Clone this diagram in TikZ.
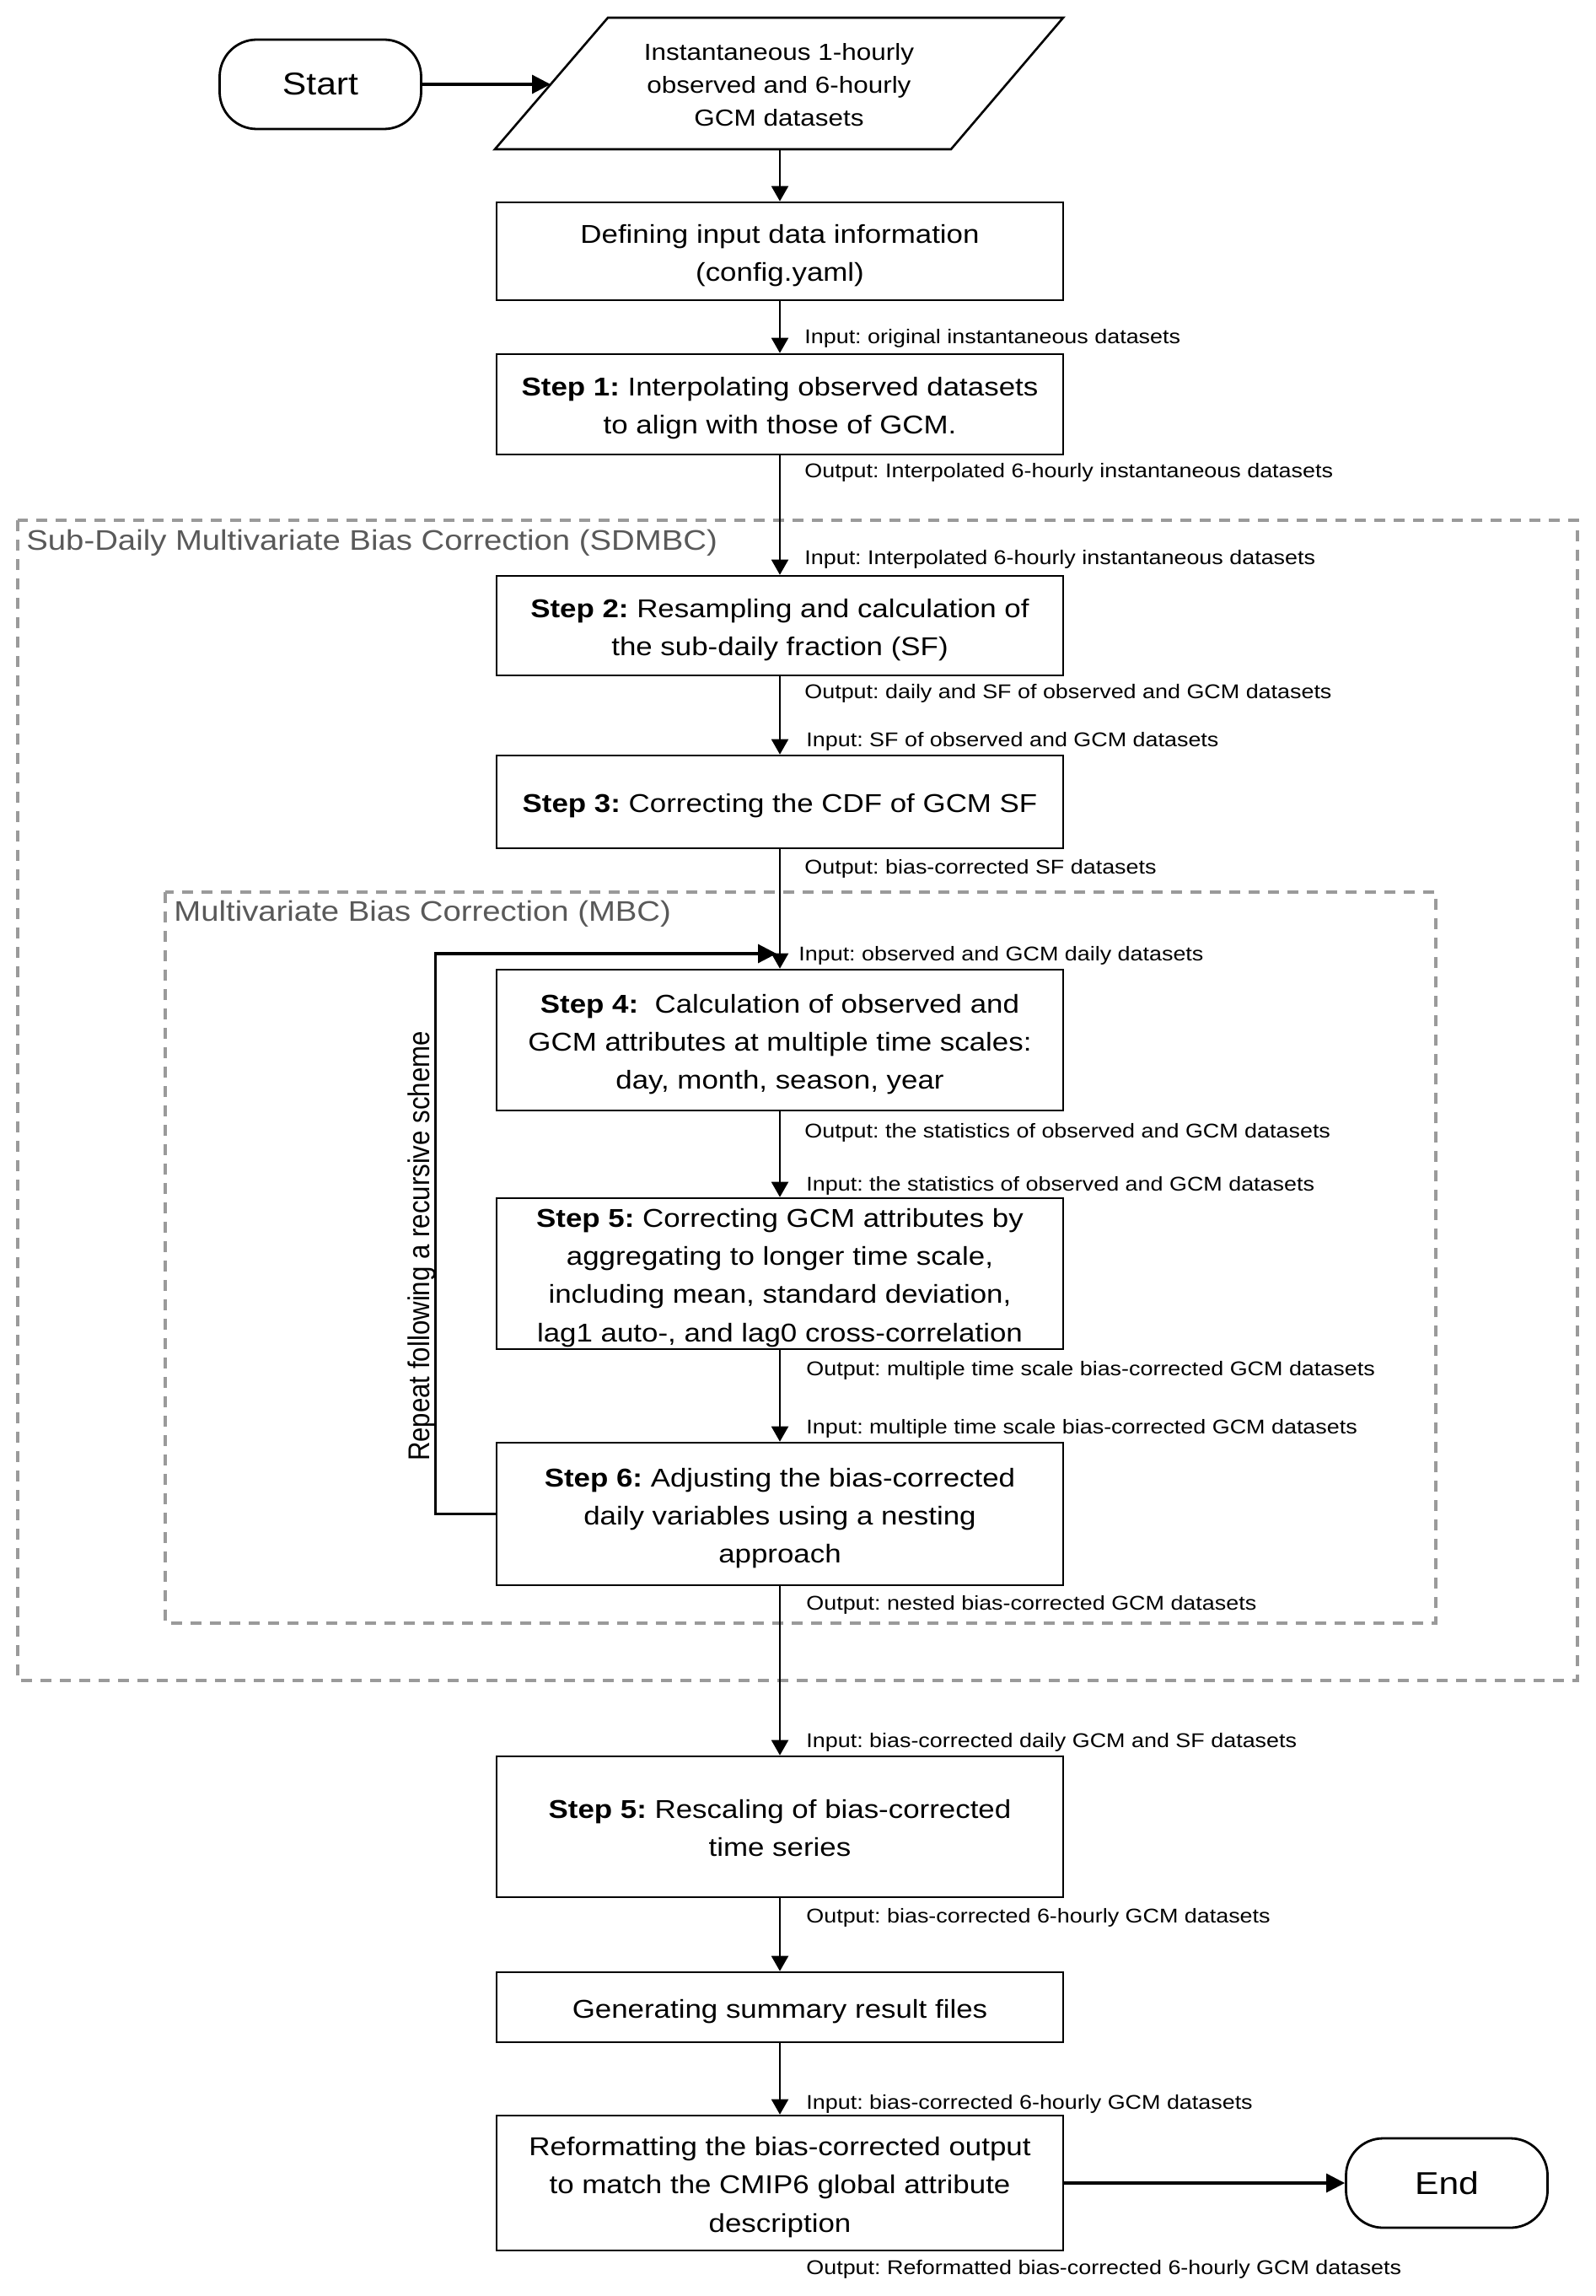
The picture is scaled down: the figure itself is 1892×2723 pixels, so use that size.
\documentclass[tikz,border=0pt]{standalone}
\usepackage{fontspec}
\setmainfont{Liberation Sans}[FakeStretch=1.14]
\newfontfamily\rotfont{Liberation Sans}
\usepackage{graphicx}
\usetikzlibrary{arrows.meta}
\definecolor{dashgray}{HTML}{9A9A9A}
\definecolor{grouptext}{HTML}{595959}
\tikzset{
 stepbox/.style={draw, line width=1.3pt, minimum width=336pt, align=center, inner sep=0pt, font=\fontsize{15.3}{22.6}\selectfont, fill=white},
 nl/.style={execute at begin node={\rule[-3.4pt]{0pt}{#1}}},
 term/.style={draw, line width=1.4pt, rounded corners=22pt, minimum width=119.5pt, minimum height=53pt, inner sep=0pt, font=\fontsize{18.7}{22}\selectfont},
 lbl/.style={anchor=base west, inner sep=0pt, font=\fontsize{11.8}{14}\selectfont},
 grp/.style={draw=dashgray, line width=2pt, dash pattern=on 6.5pt off 5pt},
 grplbl/.style={anchor=base west, inner sep=0pt, text=grouptext, font=\fontsize{16.8}{20}\selectfont},
 conn/.style={line width=1pt, -{Triangle[length=9pt,width=10pt]}},
 thickconn/.style={line width=1.6pt, -{Triangle[length=11pt,width=11pt]}},
}
\begin{document}
\frenchspacing
\begin{tikzpicture}[x=0.5pt,y=-0.5pt]
\useasboundingbox (0,0) rectangle (1892,2723);
% group frames
\draw[grp] (21,617) rectangle (1871,1993);
\draw[grp] (196,1058) rectangle (1703,1925);
\node[grplbl] (g1) at (31,652) {Sub-Daily Multivariate Bias Correction (SDMBC)};
\node[grplbl] (g2) at (206,1092) {Multivariate Bias Correction (MBC)};

% terminals
\node[term] (start) at (380,100) {Start};
\node[term] (end) at (1716,2589) {End};

% input parallelogram
\coordinate (p1) at (721,21);
\coordinate (p2) at (1261,21);
\coordinate (p3) at (1128,177);
\coordinate (p4) at (587,177);
\draw[line width=1.3pt, line join=miter] (p1) -- (p2) -- (p3) -- (p4) -- cycle;
\node[align=center, inner sep=0pt, font=\fontsize{13.8}{19.5}\selectfont] (para) at (924,101) {Instantaneous 1-hourly\\observed and 6-hourly\\GCM datasets};
\coordinate (pin) at (653,100);
\coordinate (pb) at (925,177);

% boxes
\node[stepbox, nl=42.2pt, minimum height=58pt] (def) at (925,298) {Defining input data information\\(config.yaml)};
\node[stepbox, nl=42.2pt, minimum height=59.5pt] (s1) at (925,479.5) {\textbf{Step 1:} Interpolating observed datasets\\to align with those of GCM.};
\node[stepbox, nl=42.2pt, minimum height=59pt] (s2) at (925,742) {\textbf{Step 2:} Resampling and calculation of\\the sub-daily fraction (SF)};
\node[stepbox, nl=19.6pt, minimum height=55pt] (s3) at (925,951) {\textbf{Step 3:} Correcting the CDF of GCM SF};
\node[stepbox, nl=64.8pt, minimum height=83.5pt] (s4) at (925,1233.5) {\textbf{Step 4:}\ \ Calculation of observed and\\GCM attributes at multiple time scales:\\day, month, season, year};
\node[stepbox, nl=87.4pt, minimum height=89.5pt] (s5) at (925,1510.5) {\textbf{Step 5:} Correcting GCM attributes by\\aggregating to longer time scale,\\including mean, standard deviation,\\lag1 auto-, and lag0 cross-correlation};
\node[stepbox, nl=64.8pt, minimum height=84.5pt] (s6) at (925,1795.5) {\textbf{Step 6:} Adjusting the bias-corrected\\daily variables using a nesting\\approach};
\node[stepbox, nl=42.2pt, minimum height=83.5pt] (resc) at (925,2166.5) {\textbf{Step 5:} Rescaling of bias-corrected\\time series};
\node[stepbox, nl=19.6pt, minimum height=41.5pt] (gen) at (925,2380.5) {Generating summary result files};
\node[stepbox, nl=64.8pt, minimum height=80pt] (ref) at (925,2589) {Reformatting the bias-corrected output\\to match the CMIP6 global attribute\\description};

% connectors
\draw[thickconn] (start.east) -- (pin);
\draw[conn] (pb) -- (def.north);
\draw[conn] (def.south) -- (s1.north);
\draw[conn] (s1.south) -- (s2.north);
\draw[conn] (s2.south) -- (s3.north);
\draw[conn] (s3.south) -- (s4.north);
\draw[conn] (s4.south) -- (s5.north);
\draw[conn] (s5.south) -- (s6.north);
\draw[conn] (s6.south) -- (resc.north);
\draw[conn] (resc.south) -- (gen.north);
\draw[conn] (gen.south) -- (ref.north);
\draw[thickconn] (ref.east) -- (end.west);

% recursive loop
\coordinate (loopin) at (921,1131);
\draw[thickconn, line join=miter] (s6.west) -- ++(-71,0) |- (loopin);
\node[rotate=90, anchor=base, inner sep=0pt, font=\rotfont\fontsize{15.6}{18}\selectfont] (rep) at (509,1478) {\scalebox{1}[1.14]{Repeat following a recursive scheme}};

% labels
\node[lbl] (l1) at (954,408) {Input: original instantaneous datasets};
\node[lbl] (l2) at (954,566) {Output: Interpolated 6-hourly instantaneous datasets};
\node[lbl] (l3) at (954,669) {Input: Interpolated 6-hourly instantaneous datasets};
\node[lbl] (l4) at (954,828) {Output: daily and SF of observed and GCM datasets};
\node[lbl] (l5) at (956,885) {Input: SF of observed and GCM datasets};
\node[lbl] (l6) at (954,1036) {Output: bias-corrected SF datasets};
\node[lbl] (l7) at (947,1139) {Input: observed and GCM daily datasets};
\node[lbl] (l8) at (954,1349) {Output: the statistics of observed and GCM datasets};
\node[lbl] (l9) at (956,1412) {Input: the statistics of observed and GCM datasets};
\node[lbl] (l10) at (956,1631) {Output: multiple time scale bias-corrected GCM datasets};
\node[lbl] (l11) at (956,1700) {Input: multiple time scale bias-corrected GCM datasets};
\node[lbl] (l12) at (956,1909) {Output: nested bias-corrected GCM datasets};
\node[lbl] (l13) at (956,2072) {Input: bias-corrected daily GCM and SF datasets};
\node[lbl] (l14) at (956,2280) {Output: bias-corrected 6-hourly GCM datasets};
\node[lbl] (l15) at (956,2501) {Input: bias-corrected 6-hourly GCM datasets};
\node[lbl] (l16) at (956,2697) {Output: Reformatted bias-corrected 6-hourly GCM datasets};
\end{tikzpicture}
\end{document}
